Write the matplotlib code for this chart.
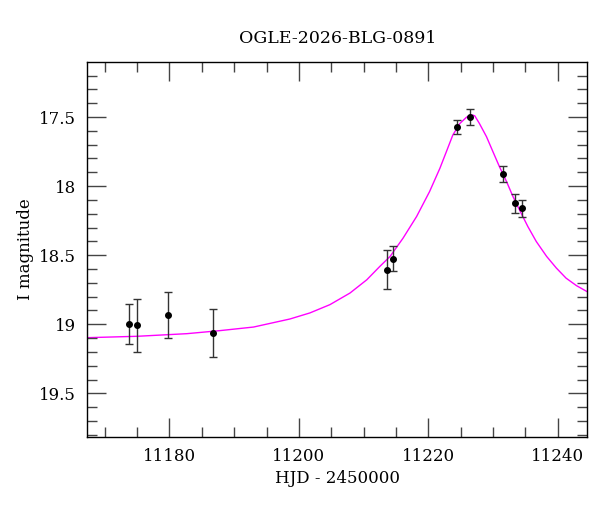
import matplotlib
matplotlib.use("Agg")
import matplotlib.pyplot as plt
from matplotlib.ticker import MultipleLocator

plt.rcParams['font.family'] = ['DejaVu Serif']
plt.rcParams['font.size'] = 12

# observed photometry
hjd = [11173.7, 11175.0, 11179.7, 11186.7, 11213.6, 11214.6,
       11224.4, 11226.5, 11231.5, 11233.4, 11234.5]
mag = [18.998, 19.008, 18.933, 19.063, 18.605, 18.524,
       17.574, 17.500, 17.914, 18.124, 18.160]
err = [0.145, 0.190, 0.165, 0.173, 0.140, 0.094,
       0.050, 0.055, 0.056, 0.070, 0.060]

# model curve
model_t = [11167.3, 11175.0, 11182.7, 11187.8, 11193.0, 11198.6, 11201.7,
           11204.8, 11207.9, 11210.5, 11212.5, 11214.1, 11216.1, 11218.2,
           11220.2, 11221.8, 11222.8, 11223.8, 11224.9, 11225.9, 11226.4,
           11226.9, 11227.2, 11227.9, 11229.0, 11230.0, 11231.0, 11232.1,
           11233.1, 11234.1, 11235.4, 11236.7, 11238.3, 11239.8, 11241.3,
           11242.9, 11244.6]
model_m = [19.097, 19.087, 19.068, 19.046, 19.020, 18.962, 18.918,
           18.858, 18.774, 18.678, 18.582, 18.509, 18.377, 18.220,
           18.040, 17.871, 17.751, 17.630, 17.546, 17.502, 17.490,
           17.486, 17.492, 17.546, 17.642, 17.751, 17.859, 17.967,
           18.076, 18.172, 18.293, 18.401, 18.509, 18.593, 18.666,
           18.720, 18.765]

fig = plt.figure(figsize=(6, 5.12), dpi=100)
ax = fig.add_axes([0.1455, 0.147, 0.8335, 0.731])

ax.plot(model_t, model_m, color='#ff00ff', linewidth=1.0, zorder=1)
ax.errorbar(hjd, mag, yerr=err, fmt='o', color='black', ecolor='#333333',
            markersize=4, elinewidth=1.0, capsize=3, capthick=1.0, zorder=2)

ax.set_xlim(11167.3, 11244.6)
ax.set_ylim(19.814, 17.105)
ax.xaxis.set_major_locator(MultipleLocator(20))
ax.xaxis.set_minor_locator(MultipleLocator(5))
ax.yaxis.set_major_locator(MultipleLocator(0.5))
ax.yaxis.set_minor_locator(MultipleLocator(0.1))
ax.yaxis.set_major_formatter(plt.FuncFormatter(lambda v, p: ('%g' % v)))
ax.tick_params(which='both', direction='in', top=True, right=True,
               color='#444444', labelsize=12)
ax.tick_params(which='major', length=13.5, width=1, pad=8)
ax.tick_params(which='minor', length=7, width=1)
for s in ax.spines.values():
    s.set_linewidth(1.0)

ax.set_title('OGLE-2026-BLG-0891', fontsize=12.5, pad=14)
ax.set_xlabel('HJD - 2450000', fontsize=12)
ax.set_ylabel('I magnitude', fontsize=12)

fig.savefig('out.png', dpi=100)
